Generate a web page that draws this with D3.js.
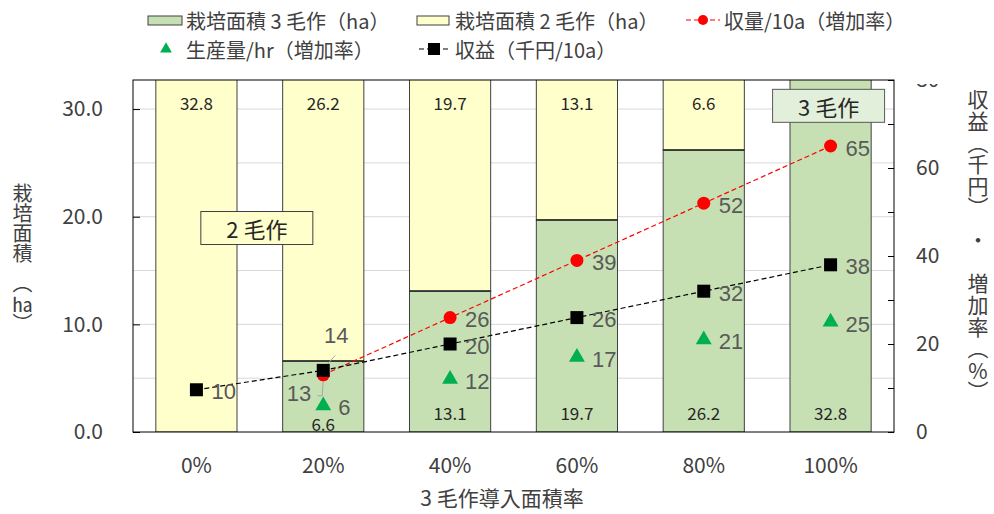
<!DOCTYPE html>
<html>
<head>
<meta charset="utf-8">
<script src="https://cdn.jsdelivr.net/npm/d3@7"></script>
<style>
  body { margin: 0; background: #fff; }
  #wrap { position: relative; width: 994px; height: 514px; }
  svg { display: block; font-family: "Noto Sans CJK JP", "Noto Sans", sans-serif; }
  .vtitle {
    position: absolute; writing-mode: vertical-rl; color: #404040; line-height: 1;
    font-family: "Noto Sans CJK JP", "Noto Sans", sans-serif; white-space: nowrap;
  }
  .tcy { text-combine-upright: all; }
</style>
</head>
<body>
<div id="wrap"><svg id="chart" width="994" height="514"></svg></div>
<script>
// data
const categories = ['0%', '20%', '40%', '60%', '80%', '100%'];
const area3 = [0, 6.6, 13.1, 19.7, 26.2, 32.8];     // 栽培面積 3毛作 (ha)
const area2 = [32.8, 26.2, 19.7, 13.1, 6.6, 0];     // 栽培面積 2毛作 (ha)
const yieldRate = [null, 13, 26, 39, 52, 65];       // 収量/10a (増加率)
const prodRate = [null, 6, 12, 17, 21, 25];         // 生産量/hr (増加率)
const profit = [9.6, 14, 20, 26, 32, 38];           // 収益 (千円/10a)
const leftTicks = [0, 10, 20, 30];
const rightTicks = [0, 10, 20, 30, 40, 50, 60, 70, 80];

const svg = d3.select('svg#chart');
const margin = {top: 80, right: 100, bottom: 82, left: 133};
const W = +svg.attr('width'), H = +svg.attr('height');
const x0 = margin.left, x1 = W - margin.right, yTop = margin.top, yBot = H - margin.bottom;

const GREEN = '#c6e0b4', YELLOW = '#ffffcc', LABEL = '#595959', AXIS = '#404040';

const x = d3.scaleBand().domain(categories).range([x0, x1]).paddingInner(0.36).paddingOuter(0.18);
const yL = d3.scaleLinear().domain([0, 32.7]).range([yBot, yTop]);
const yR = d3.scaleLinear().domain([0, 80]).range([yBot, yTop]);
const xc = i => x(categories[i]) + x.bandwidth() / 2;

svg.append('defs').append('clipPath').attr('id', 'plotClip')
  .append('rect').attr('x', x0).attr('y', yTop).attr('width', x1 - x0).attr('height', yBot - yTop);

// gridlines
svg.append('g').selectAll('line').data(yL.ticks(7).filter(d => d > 0)).join('line')
  .attr('x1', x0).attr('x2', x1).attr('y1', d => yL(d)).attr('y2', d => yL(d))
  .attr('stroke', '#d9d9d9').attr('stroke-width', 1);

// bars
const bars = svg.append('g').attr('clip-path', 'url(#plotClip)');
categories.forEach((c, i) => {
  if (area3[i] > 0) {
    bars.append('rect').attr('x', x(c)).attr('width', x.bandwidth())
      .attr('y', yL(area3[i])).attr('height', yL(0) - yL(area3[i]))
      .attr('fill', GREEN).attr('stroke', AXIS).attr('stroke-width', 1);
  }
  if (area2[i] > 0) {
    const top = area3[i] + area2[i];
    bars.append('rect').attr('x', x(c)).attr('width', x.bandwidth())
      .attr('y', yL(top)).attr('height', yL(area3[i]) - yL(top))
      .attr('fill', YELLOW).attr('stroke', AXIS).attr('stroke-width', 1);
  }
});
// boundary between segments
categories.forEach((c, i) => {
  if (area3[i] > 0 && area2[i] > 0) {
    bars.append('line').attr('x1', x(c)).attr('x2', x(c) + x.bandwidth())
      .attr('y1', yL(area3[i])).attr('y2', yL(area3[i])).attr('stroke', '#000');
  }
});

// bar value labels
const barLabels = svg.append('g').attr('font-size', 17).attr('fill', '#262626')
  .attr('text-anchor', 'middle').attr('dominant-baseline', 'central');
categories.forEach((c, i) => {
  if (area2[i] > 0) {
    barLabels.append('text').attr('x', xc(i))
      .attr('y', Math.max(yL(area3[i] + area2[i]), yTop) + 22).text(area2[i].toFixed(1));
  }
  if (area3[i] > 0) {
    const h = yL(0) - yL(area3[i]);
    barLabels.append('text').attr('x', xc(i))
      .attr('y', yL(0) - (h > 100 ? 20 : 9)).text(area3[i].toFixed(1));
  }
});

// axes
const axL = svg.append('g').attr('transform', `translate(${x0},0)`)
  .call(d3.axisLeft(yL).tickValues(leftTicks).tickSize(-7).tickPadding(30).tickFormat(d3.format('.1f')));
const axR = svg.append('g').attr('transform', `translate(${x1},0)`)
  .call(d3.axisRight(yR).tickValues(rightTicks).tickSize(-6).tickPadding(22)
    .tickFormat(d => d % 20 === 0 ? d : ''));
const axB = svg.append('g').attr('transform', `translate(0,${yBot})`)
  .call(d3.axisBottom(x).tickSize(0).tickPadding(26));
[axL, axR, axB].forEach(a => {
  a.attr('font-family', null);
  a.select('.domain').remove();
  a.selectAll('.tick line').attr('stroke', '#000');
  a.selectAll('text').attr('font-size', 21).attr('fill', AXIS);
});

// plot border
svg.append('rect').attr('x', x0).attr('y', yTop).attr('width', x1 - x0).attr('height', yBot - yTop)
  .attr('fill', 'none').attr('stroke', '#000').attr('stroke-width', 1);

// lines
const pts = vals => vals.map((v, i) => ({v, i}));
const line = d3.line().defined(d => d.v != null).x(d => xc(d.i)).y(d => yR(d.v));
svg.append('path').attr('d', line(pts(yieldRate)))
  .attr('fill', 'none').attr('stroke', '#ff0000').attr('stroke-width', 1.2).attr('stroke-dasharray', '5,3');
svg.append('path').attr('d', line(pts(profit)))
  .attr('fill', 'none').attr('stroke', '#000').attr('stroke-width', 1.2).attr('stroke-dasharray', '5,3');

// leader lines for the crowded 20% labels
const lead = svg.append('g').attr('stroke', '#a6a6a6').attr('fill', 'none').attr('stroke-width', 1);
lead.append('path').attr('d', `M${xc(1) + 2},${yR(profit[1]) - 4}L${xc(1) + 12},${yR(profit[1]) - 15}`);
lead.append('path').attr('d', `M${xc(1)},${yR(yieldRate[1]) + 5}L${xc(1) - 1},${yR(yieldRate[1]) + 21}L${xc(1) - 6},${yR(yieldRate[1]) + 21}`);

// markers
svg.append('g').selectAll('circle').data(pts(yieldRate).filter(d => d.v != null)).join('circle')
  .attr('cx', d => xc(d.i)).attr('cy', d => yR(d.v)).attr('r', 6.5).attr('fill', '#ff0000');
svg.append('g').selectAll('rect').data(pts(profit)).join('rect')
  .attr('x', d => xc(d.i) - 6.5).attr('y', d => yR(d.v) - 6.5).attr('width', 13).attr('height', 13).attr('fill', '#000');
const tri = d3.symbol(d3.symbolTriangle, 110);
svg.append('g').selectAll('path').data(pts(prodRate).filter(d => d.v != null)).join('path')
  .attr('d', tri).attr('transform', d => `translate(${xc(d.i)},${yR(d.v)})`).attr('fill', '#00b050');

// value labels
const vl = svg.append('g').attr('font-size', 22).attr('fill', LABEL).attr('dominant-baseline', 'central')
  .attr('font-family', '"Liberation Sans", Arial, sans-serif');
const addLabels = (vals, skip) => vals.forEach((v, i) => {
  if (v == null || skip(i)) return;
  vl.append('text').attr('x', xc(i) + 15).attr('y', yR(v) + 2).text(Math.round(v));
});
addLabels(yieldRate, i => i === 1);
addLabels(profit, i => i === 1);
addLabels(prodRate, () => false);
vl.append('text').attr('x', xc(1) + 13).attr('y', yR(profit[1]) - 35).attr('text-anchor', 'middle').text(Math.round(profit[1]));
vl.append('text').attr('x', xc(1) - 12).attr('y', yR(yieldRate[1]) + 19).attr('text-anchor', 'end').text(Math.round(yieldRate[1]));

// annotation boxes
const box = (cx, cy, w, h, fill, stroke, label) => {
  svg.append('rect').attr('x', cx - w / 2).attr('y', cy - h / 2).attr('width', w).attr('height', h)
    .attr('fill', fill).attr('stroke', stroke).attr('stroke-width', 1);
  svg.append('text').attr('x', cx).attr('y', cy).attr('text-anchor', 'middle').attr('dominant-baseline', 'central')
    .attr('font-size', 22).attr('fill', '#262626').text(label);
};
box((xc(0) + xc(1)) / 2 - 3, yL(18.95), 112, 33, '#ffffcc', AXIS, '2 毛作');
box(xc(5) - 2, yL(30.3), 112, 33, '#e2efda', '#595959', '3 毛作');

// hide top of the clipped "80" tick label (legend area)
svg.append('rect').attr('x', x1 + 4).attr('y', 0).attr('width', 60).attr('height', 84).attr('fill', '#fff');

// x axis title
svg.append('text').attr('x', 502).attr('y', 497).attr('text-anchor', 'middle').attr('dominant-baseline', 'central')
  .attr('font-size', 21).attr('fill', AXIS).text('3 毛作導入面積率');

// vertical axis titles (HTML, vertical writing)
const wrap = d3.select('#wrap');
wrap.append('div').attr('class', 'vtitle')
  .style('left', '12px').style('top', '183px').style('font-size', '20px')
  .html('栽培面積　（<span class="tcy">ha</span>）');
wrap.append('div').attr('class', 'vtitle')
  .style('left', '967px').style('top', '89px').style('font-size', '21px').style('letter-spacing', '0.6px')
  .html('収益（千円）　・　増加率（<span class="tcy">%</span>）');

// legend
const lg = svg.append('g').attr('font-size', 20).attr('fill', AXIS);
const legText = (tx, ty, t) => lg.append('text').attr('x', tx).attr('y', ty).attr('dominant-baseline', 'central').text(t);
lg.append('rect').attr('x', 148).attr('y', 16).attr('width', 34).attr('height', 9).attr('fill', GREEN).attr('stroke', AXIS);
legText(186, 20, '栽培面積 3 毛作（ha）');
lg.append('rect').attr('x', 417).attr('y', 16).attr('width', 32).attr('height', 9).attr('fill', YELLOW).attr('stroke', AXIS);
legText(455, 20, '栽培面積 2 毛作（ha）');
lg.append('line').attr('x1', 686).attr('x2', 720).attr('y1', 20).attr('y2', 20)
  .attr('stroke', '#ff0000').attr('stroke-width', 1.2).attr('stroke-dasharray', '5,3');
lg.append('circle').attr('cx', 703).attr('cy', 20).attr('r', 5).attr('fill', '#ff0000');
legText(724, 20, '収量/10a（増加率）');
lg.append('path').attr('d', d3.symbol(d3.symbolTriangle, 60)).attr('transform', 'translate(166,49)').attr('fill', '#00b050');
legText(186, 49, '生産量/hr（増加率）');
lg.append('line').attr('x1', 419).attr('x2', 448).attr('y1', 49).attr('y2', 49)
  .attr('stroke', '#000').attr('stroke-width', 1.2).attr('stroke-dasharray', '5,3');
lg.append('rect').attr('x', 428).attr('y', 43).attr('width', 12).attr('height', 12).attr('fill', '#000');
legText(455, 49, '収益（千円/10a）');
</script>
</body>
</html>
